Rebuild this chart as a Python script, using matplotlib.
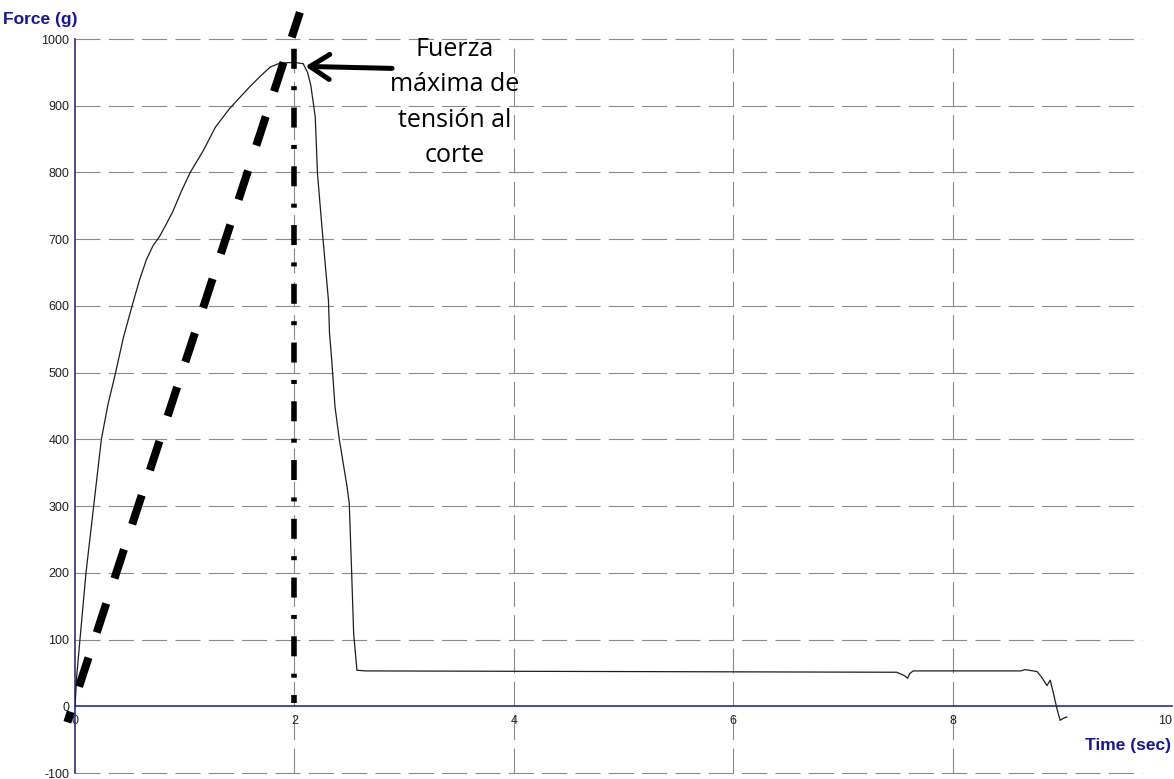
import matplotlib
matplotlib.use('Agg')
import matplotlib.pyplot as plt

plt.rcParams['font.family'] = ['Liberation Sans', 'DejaVu Sans']
plt.rcParams['lines.scale_dashes'] = False
plt.rcParams['axes.unicode_minus'] = False

# Curva fuerza-tiempo
time_s = [0, 0.015, 0.045, 0.10, 0.17, 0.24, 0.30, 0.37, 0.44, 0.52, 0.59,
          0.65, 0.71, 0.77, 0.83, 0.89, 0.97, 1.05, 1.17, 1.28, 1.41, 1.50,
          1.59, 1.70, 1.78, 1.87, 2.00, 2.08, 2.12, 2.15, 2.19, 2.21, 2.25,
          2.31, 2.32, 2.34, 2.37, 2.41, 2.48, 2.50, 2.52, 2.54, 2.57, 2.65,
          7.49, 7.56, 7.59, 7.61, 7.64, 8.62, 8.66, 8.77, 8.81, 8.86, 8.89,
          8.92, 8.95, 8.98, 9.01, 9.04]
force_g = [0, 44, 100, 200, 300, 400, 452, 500, 552, 600, 640,
           669, 690, 704, 722, 741, 772, 800, 833, 868, 896, 912,
           928, 946, 958, 964, 965, 963, 950, 930, 883, 799, 720,
           609, 559, 519, 449, 399, 329, 304, 209, 109, 54, 53,
           51, 46, 42, 49, 53, 53, 55, 52, 44, 31, 39,
           19, -3, -21, -18, -16]

x_ticks = [0, 2, 4, 6, 8, 10]
y_ticks = list(range(-100, 1001, 100))
x_grid = [2, 4, 6, 8]

# lineas de anotacion
slope_x = [-0.07, 2.05]
slope_y = [-24, 1040]
peak_x = [2.0, 2.0]
peak_y = [1010, 5]
arrow_tip = (2.10, 959)
arrow_tail = (2.89, 956)
label = 'Fuerza\nmáxima de\ntensión al\ncorte'

blue = '#1515a0'
grid_col = '#8a8a8a'

fig = plt.figure(figsize=(11.74, 7.79), dpi=100)
ax = fig.add_axes([0.0639, 0.0077, 0.9344, 0.9422])
ax.set_xlim(0, 10)
ax.set_ylim(-100, 1000)

# rejilla punteada
for y in y_ticks:
    if y != 0:
        ax.axhline(y, xmin=0, xmax=0.973, color=grid_col, lw=0.8,
                   ls=(0, (18, 6)), zorder=1, clip_on=False)
for x in x_grid:
    ax.axvline(x, color=grid_col, lw=0.8, ls=(0, (18, 6)), zorder=1)

ax.plot(time_s, force_g, color='#1e1e1e', lw=0.9, zorder=3)

ax.plot(slope_x, slope_y, color='black', lw=5.8, ls=(14, (22, 19)),
        dash_capstyle='butt', clip_on=False, zorder=4)
ax.plot(peak_x, peak_y, color='black', lw=4, ls=(30.2, (14.4, 12.5, 2.9, 12.5)),
        dash_capstyle='butt', clip_on=False, zorder=4)

ax.annotate('', xy=arrow_tip, xytext=arrow_tail,
            arrowprops=dict(arrowstyle='->,head_length=0.7,head_width=0.45',
                            lw=3.6, color='black', mutation_scale=20,
                            shrinkA=0, shrinkB=0), zorder=5)
ax.text(3.46, 905, label, ha='center', va='center', fontsize=18,
        family='Open Sans', linespacing=1.55, multialignment='center')

for s in ['top', 'right']:
    ax.spines[s].set_visible(False)
ax.spines['left'].set_color('#2e2e7e')
ax.spines['left'].set_linewidth(1.2)
ax.spines['bottom'].set_position(('data', 0))
ax.spines['bottom'].set_color('#2a2aa0')
ax.spines['bottom'].set_linewidth(1.2)

ax.set_xticks(x_ticks)
ax.set_yticks(y_ticks)
ax.tick_params(axis='both', length=0, labelsize=9, colors='#222222')
ax.tick_params(axis='y', pad=4)
ax.tick_params(axis='x', pad=6)
ax.get_xticklabels()[-1].set_horizontalalignment('right')

fig.text(0.0026, 0.9756, 'Force (g)', ha='left', va='center', fontsize=12.5,
         fontweight='bold', color=blue)
fig.text(0.9974, 0.0424, 'Time (sec)', ha='right', va='center', fontsize=12.5,
         fontweight='bold', color=blue)

fig.savefig('out.png', dpi=100)
